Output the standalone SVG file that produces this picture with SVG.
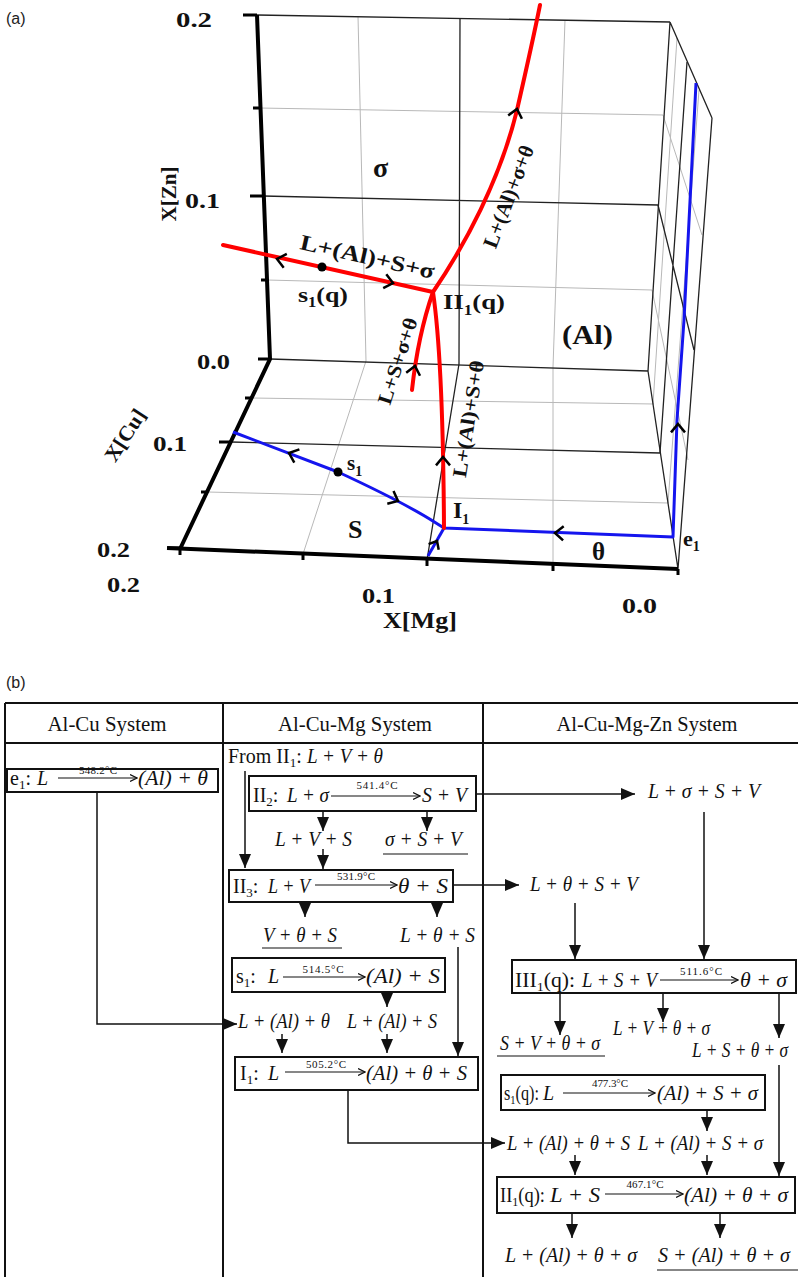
<svg xmlns="http://www.w3.org/2000/svg" width="798" height="1277" viewBox="0 0 798 1277">
<style>
.sans{font-family:"Liberation Sans",Arial,sans-serif;font-size:16px;fill:#222}
.ab{font-family:"Liberation Serif","Times New Roman",serif;font-weight:bold;fill:#111}
.t{font-family:"Liberation Serif","Times New Roman",serif;font-size:20px;fill:#111}
.it{font-style:italic}
.tmp{font-family:"Liberation Serif","Times New Roman",serif;font-size:11px;fill:#111}
.hd{font-family:"Liberation Serif","Times New Roman",serif;font-size:21px;fill:#111}
.sub{font-size:13px}
.g1{stroke:#b8b8b8;stroke-width:1;fill:none}
.g2{stroke:#222;stroke-width:1.3;fill:none}
.ax{stroke:#000;stroke-width:4;fill:none}
.tk{stroke:#000;stroke-width:3;fill:none}
.red{stroke:#f00;stroke-width:4;fill:none;stroke-linecap:round}
.blue{stroke:#1515ee;stroke-width:3;fill:none;stroke-linejoin:round}
.chev{stroke:#000;stroke-width:2.5;fill:none}
.box{fill:#fff;stroke:#111;stroke-width:2}
.tbl{stroke:#111;stroke-width:2;fill:none}
.cn{stroke:#111;stroke-width:1.5;fill:none;marker-end:url(#tri)}
.ra{stroke:#111;stroke-width:1.2;fill:none;marker-end:url(#oa)}
.ul{stroke:#111;stroke-width:1.2}
</style>
<defs>
<marker id="tri" markerUnits="userSpaceOnUse" markerWidth="14" markerHeight="12" viewBox="0 0 14 12" refX="14" refY="6" orient="auto"><path d="M0,0 L14,6 L0,12 z" fill="#111"/></marker>
<marker id="oa" markerUnits="userSpaceOnUse" markerWidth="8" markerHeight="8" viewBox="0 0 8 8" refX="7.5" refY="4" orient="auto"><path d="M0.5,0.5 L7.5,4 L0.5,7.5" fill="none" stroke="#111" stroke-width="1.2"/></marker>
</defs>

<!-- ===== (a) ===== -->
<g id="plot-a">
<text class="sans" x="6" y="24">(a)</text>
<g id="grid">
<path class="g1" d="M259,108 L663,115 M267,280 L652,290 M358,16 L366,361 M565,20 L553,367"/>
<path class="g2" d="M263,196 L658,205 M460,18 L459,364"/>
<path class="g1" d="M251,398 L654,404 M207,492 L668,503 M366,361 L303,554 M553,367 L553,565"/>
<path class="g2" d="M231,442 L660,453 M459,364 L427,560"/>
<path class="g1" d="M677,38 L653,404 M699,90 L668,503 M663,115 L702,235 M652,290 L688,460"/>
<path class="g2" d="M687,62 L660,453 M658,205 L694,350"/>
<path class="g2" d="M257,15 L670,22 M670,22 L648,371 M270,359 L648,371 M670,22 L712,118 M712,118 L678,569 M648,371 L678,569"/>
</g>
<g id="axes">
<path class="ax" d="M257,15 L270,359 L180,549 M167,548 L678,569"/>
<path class="tk" d="M243,15 L257,15 M253,108 L259,108 M250,196 L263,196 M261,280 L267,280 M258,359 L270,359 M245,398 L251,398 M219,442 L231,442 M201,492 L207,492 M168,548 L180,548 M180,549 L180,555 M303,554 L303,560 M427,559 L427,566 M553,564 L553,571 M678,569 L678,575"/>
</g>
<g id="curves">
<path class="blue" d="M233,432 L338,472 Q405,503 436,523 L444,528 L673,537 L677,420 L684,320 L696,83"/>
<path class="blue" d="M444,528 L428,556"/>
<path class="red" d="M223,245 L433,292"/>
<path class="red" d="M433,292 C465,245 500,180 517,110 C525,75 533,40 540,5"/>
<path class="red" d="M433,292 Q418,335 412,390"/>
<path class="red" d="M433,292 Q443,360 444,528"/>
</g>
<g id="chevrons">
<path class="chev" d="M283.7,267.7 L277,259 L286.8,253.9"/>
<path class="chev" d="M386.3,274.3 L393,283 L383.2,288.1"/>
<path class="chev" d="M508.2,115.5 L517,109 L521.9,118.8"/>
<path class="chev" d="M406.2,372.7 L415,366 L420,375.8"/>
<path class="chev" d="M436,465.4 L443,457 L450,465.4"/>
<path class="chev" d="M294.3,462.6 L289,453 L299.4,449.4"/>
<path class="chev" d="M393.5,491 L398,501 L387.3,503.7"/>
<path class="chev" d="M563.1,540.4 L555,533 L563.7,526.3"/>
<path class="chev" d="M671,432.4 L678,424 L685,432.4"/>
<path class="chev" d="M428.6,544.2 L437,541 L438.7,549.8"/>
</g>
<circle cx="322" cy="267" r="4.5" fill="#000"/>
<circle cx="338" cy="472" r="4.5" fill="#000"/>
<g id="axis-labels">
<text class="ab" x="176" y="27" font-size="22" textLength="36" lengthAdjust="spacingAndGlyphs">0.2</text>
<text class="ab" x="185" y="208" font-size="22" textLength="35" lengthAdjust="spacingAndGlyphs">0.1</text>
<text class="ab" font-size="22" text-anchor="middle" transform="translate(176,194) rotate(-90)" textLength="55" lengthAdjust="spacingAndGlyphs">X[Zn]</text>
<text class="ab" x="197" y="369" font-size="22" textLength="33" lengthAdjust="spacingAndGlyphs">0.0</text>
<text class="ab" x="153" y="451" font-size="22" textLength="34" lengthAdjust="spacingAndGlyphs">0.1</text>
<text class="ab" x="97" y="557" font-size="22" textLength="33" lengthAdjust="spacingAndGlyphs">0.2</text>
<text class="ab" font-size="21" text-anchor="middle" transform="translate(131,439) rotate(-57)" textLength="58" lengthAdjust="spacingAndGlyphs">X[Cu]</text>
<text class="ab" x="107" y="592" font-size="22" textLength="33" lengthAdjust="spacingAndGlyphs">0.2</text>
<text class="ab" x="362" y="603" font-size="22" textLength="33" lengthAdjust="spacingAndGlyphs">0.1</text>
<text class="ab" x="622" y="613" font-size="22" textLength="35" lengthAdjust="spacingAndGlyphs">0.0</text>
<text class="ab" x="383" y="628" font-size="23" textLength="74" lengthAdjust="spacingAndGlyphs">X[Mg]</text>
</g>
<g id="region-labels">
<text class="ab" x="373" y="177" font-size="28">σ</text>
<text class="ab" x="562" y="344" font-size="28" textLength="51" lengthAdjust="spacingAndGlyphs">(Al)</text>
<text class="ab" x="348" y="538" font-size="26">S</text>
<text class="ab" x="592" y="560" font-size="25">θ</text>
<text class="ab" x="683" y="546" font-size="22">e<tspan font-size="14" dy="5">1</tspan></text>
<text class="ab" x="453" y="518" font-size="24">I<tspan font-size="14" dy="6">1</tspan></text>
<text class="ab" x="347" y="470" font-size="21">s<tspan font-size="14" dy="6">1</tspan></text>
<text class="ab" x="298" y="302" font-size="22" textLength="50" lengthAdjust="spacingAndGlyphs">s<tspan font-size="14" dy="5">1</tspan><tspan dy="-5">(q)</tspan></text>
<text class="ab" x="443" y="309" font-size="22" textLength="62" lengthAdjust="spacingAndGlyphs">II<tspan font-size="14" dy="6">1</tspan><tspan dy="-6">(q)</tspan></text>
<text class="ab" font-size="22" transform="translate(299,249) rotate(12.6)" textLength="137" lengthAdjust="spacingAndGlyphs">L+(Al)+S+σ</text>
<text class="ab" font-size="21" text-anchor="middle" transform="translate(515,199) rotate(-69)" textLength="108" lengthAdjust="spacingAndGlyphs">L+(Al)+σ+θ</text>
<text class="ab" font-size="20" text-anchor="middle" transform="translate(404,363) rotate(-72)" textLength="90" lengthAdjust="spacingAndGlyphs">L+S+σ+θ</text>
<text class="ab" font-size="20" text-anchor="middle" transform="translate(475,420) rotate(-81)" textLength="118" lengthAdjust="spacingAndGlyphs">L+(Al)+S+θ</text>
</g>
</g>

<!-- ===== (b) ===== -->
<text class="sans" x="6" y="688">(b)</text>
<g id="table">
<path class="tbl" d="M5,703 L798,703 M5,743 L798,743 M5,703 L5,1277 M223,703 L223,1277 M483,703 L483,1277"/>
<text class="hd" x="107" y="731" text-anchor="middle" textLength="119" lengthAdjust="spacingAndGlyphs">Al-Cu System</text>
<text class="hd" x="355" y="731" text-anchor="middle" textLength="154" lengthAdjust="spacingAndGlyphs">Al-Cu-Mg System</text>
<text class="hd" x="647" y="731" text-anchor="middle" textLength="181" lengthAdjust="spacingAndGlyphs">Al-Cu-Mg-Zn System</text>
</g>

<g id="connectors">
<path class="cn" d="M97,792 L97,1024 L237,1024"/>
<path class="cn" d="M245,771 L245,868"/>
<path class="cn" d="M476,794 L635,794"/>
<path class="cn" d="M323,811 L323,831"/>
<path class="cn" d="M427,811 L427,831"/>
<path class="cn" d="M323,849 L323,869"/>
<path class="cn" d="M453,885 L519,885"/>
<path class="cn" d="M305,902 L305,917"/>
<path class="cn" d="M437,902 L437,917"/>
<path class="cn" d="M458,947 L458,1056"/>
<path class="cn" d="M387,992 L387,1007"/>
<path class="cn" d="M282,1034 L282,1053"/>
<path class="cn" d="M387,1034 L387,1053"/>
<path class="cn" d="M348,1090 L348,1143 L505,1143"/>
<path class="cn" d="M704,812 L704,959"/>
<path class="cn" d="M575,903 L575,959"/>
<path class="cn" d="M560,993 L560,1035"/>
<path class="cn" d="M663,993 L663,1022"/>
<path class="cn" d="M779,993 L779,1038"/>
<path class="cn" d="M779,1065 L779,1176"/>
<path class="cn" d="M707,1110 L707,1131"/>
<path class="cn" d="M575,1155 L575,1175"/>
<path class="cn" d="M707,1155 L707,1175"/>
<path class="cn" d="M572,1213 L572,1238"/>
<path class="cn" d="M720,1213 L720,1238"/>
</g>

<g id="node-e1">
<rect class="box" x="7" y="769" width="211" height="23"/>
<text class="t" x="10" y="785">e<tspan class="sub" dy="4">1</tspan><tspan dy="-4">:</tspan></text>
<text class="t it" x="37" y="785">L</text>
<path class="ra" d="M58,778 L137,778"/>
<text class="tmp" x="98" y="774" font-size="10" text-anchor="middle" textLength="38">548.2°C</text>
<text class="t it" x="138" y="785" font-size="21" textLength="70" lengthAdjust="spacingAndGlyphs">(Al) + θ</text>
</g>

<g id="node-from-II1">
<text class="t" x="228" y="763">From II<tspan class="sub" dy="4">1</tspan><tspan dy="-4">:</tspan></text>
<text class="t it" x="307" y="763" textLength="76" lengthAdjust="spacingAndGlyphs">L + V + θ</text>
</g>

<g id="node-II2">
<rect class="box" x="249" y="776" width="227" height="35"/>
<text class="t" x="253" y="802">II<tspan class="sub" dy="4">2</tspan><tspan dy="-4">:</tspan></text>
<text class="t it" x="287" y="802" textLength="42" lengthAdjust="spacingAndGlyphs">L + σ</text>
<path class="ra" d="M331,796 L420,796"/>
<text class="tmp" x="377" y="789" text-anchor="middle" textLength="41">541.4°C</text>
<text class="t it" x="422" y="802" textLength="45" lengthAdjust="spacingAndGlyphs">S + V</text>
</g>
<g id="node-LVS"><text class="t it" x="275" y="846" textLength="77" lengthAdjust="spacingAndGlyphs">L + V + S</text></g>
<g id="node-sSV"><text class="t it" x="385" y="846" textLength="77" lengthAdjust="spacingAndGlyphs">σ + S + V</text><line class="ul" x1="383" y1="854" x2="468" y2="854"/></g>

<g id="node-II3">
<rect class="box" x="229" y="870" width="224" height="32"/>
<text class="t" x="233" y="893">II<tspan class="sub" dy="4">3</tspan><tspan dy="-4">:</tspan></text>
<text class="t it" x="268" y="893" textLength="42" lengthAdjust="spacingAndGlyphs">L + V</text>
<path class="ra" d="M315,885 L397,885"/>
<text class="tmp" x="356" y="880" text-anchor="middle" textLength="38">531.9°C</text>
<text class="t it" x="398" y="893" font-size="21" textLength="50" lengthAdjust="spacingAndGlyphs">θ + S</text>
</g>
<g id="node-VthS"><text class="t it" x="263" y="942" textLength="74" lengthAdjust="spacingAndGlyphs">V + θ + S</text><line class="ul" x1="262" y1="948" x2="342" y2="948"/></g>
<g id="node-LthS"><text class="t it" x="400" y="942" textLength="75" lengthAdjust="spacingAndGlyphs">L + θ + S</text></g>

<g id="node-s1">
<rect class="box" x="232" y="958" width="213" height="34"/>
<text class="t" x="236" y="983">s<tspan class="sub" dy="4">1</tspan><tspan dy="-4">:</tspan></text>
<text class="t it" x="268" y="983">L</text>
<path class="ra" d="M283,977 L365,977"/>
<text class="tmp" x="323" y="973" text-anchor="middle" textLength="41">514.5°C</text>
<text class="t it" x="366" y="983" font-size="21" textLength="74" lengthAdjust="spacingAndGlyphs">(Al) + S</text>
</g>
<g id="node-LAlth"><text class="t it" x="238" y="1028" textLength="92" lengthAdjust="spacingAndGlyphs">L + (Al) + θ</text></g>
<g id="node-LAlS"><text class="t it" x="347" y="1028" font-size="17" textLength="90" lengthAdjust="spacingAndGlyphs">L + (Al) + S</text></g>

<g id="node-I1">
<rect class="box" x="235" y="1057" width="243" height="33"/>
<text class="t" x="240" y="1080">I<tspan class="sub" dy="4">1</tspan><tspan dy="-4">:</tspan></text>
<text class="t it" x="268" y="1080">L</text>
<path class="ra" d="M285,1072 L365,1072"/>
<text class="tmp" x="326" y="1068" text-anchor="middle" textLength="40">505.2°C</text>
<text class="t it" x="366" y="1080" textLength="101" lengthAdjust="spacingAndGlyphs">(Al) + θ + S</text>
</g>

<g id="node-LsSV"><text class="t it" x="648" y="798" textLength="112" lengthAdjust="spacingAndGlyphs">L + σ + S + V</text></g>
<g id="node-LthSV"><text class="t it" x="530" y="891" textLength="108" lengthAdjust="spacingAndGlyphs">L + θ + S + V</text></g>

<g id="node-III1q">
<rect class="box" x="512" y="960" width="284" height="33"/>
<text class="t" x="515" y="987" textLength="60" lengthAdjust="spacingAndGlyphs">III<tspan class="sub" dy="4">1</tspan><tspan dy="-4">(q):</tspan></text>
<text class="t it" x="582" y="987" textLength="75" lengthAdjust="spacingAndGlyphs">L + S + V</text>
<path class="ra" d="M660,980 L738,980"/>
<text class="tmp" x="701" y="975" text-anchor="middle" textLength="42">511.6°C</text>
<text class="t it" x="740" y="987" font-size="21" textLength="47" lengthAdjust="spacingAndGlyphs">θ + σ</text>
</g>
<g id="node-SVths"><text class="t it" x="500" y="1050" font-size="17" textLength="100" lengthAdjust="spacingAndGlyphs">S + V + θ + σ</text><line class="ul" x1="497" y1="1056" x2="605" y2="1056"/></g>
<g id="node-LVths"><text class="t it" x="613" y="1035" font-size="15" textLength="97" lengthAdjust="spacingAndGlyphs">L + V + θ + σ</text></g>
<g id="node-LSths"><text class="t it" x="692" y="1057" font-size="17" textLength="96" lengthAdjust="spacingAndGlyphs">L + S + θ + σ</text></g>

<g id="node-s1q">
<rect class="box" x="501" y="1075" width="264" height="35"/>
<text class="t" x="504" y="1100" textLength="35" lengthAdjust="spacingAndGlyphs">s<tspan class="sub" dy="4">1</tspan><tspan dy="-4">(q):</tspan></text>
<text class="t it" x="543" y="1100">L</text>
<path class="ra" d="M563,1093 L655,1093"/>
<text class="tmp" x="610" y="1087" text-anchor="middle" textLength="36">477.3°C</text>
<text class="t it" x="657" y="1100" textLength="101" lengthAdjust="spacingAndGlyphs">(Al) + S + σ</text>
</g>
<g id="node-LAlthS"><text class="t it" x="507" y="1150" textLength="123" lengthAdjust="spacingAndGlyphs">L + (Al) + θ + S</text></g>
<g id="node-LAlSs"><text class="t it" x="638" y="1150" textLength="125" lengthAdjust="spacingAndGlyphs">L + (Al) + S + σ</text></g>

<g id="node-II1q">
<rect class="box" x="497" y="1177" width="298" height="36"/>
<text class="t" x="500" y="1202" textLength="45" lengthAdjust="spacingAndGlyphs">II<tspan class="sub" dy="4">1</tspan><tspan dy="-4">(q):</tspan></text>
<text class="t it" x="550" y="1202" textLength="50" lengthAdjust="spacingAndGlyphs">L + S</text>
<path class="ra" d="M605,1194 L683,1194"/>
<text class="tmp" x="645" y="1188" text-anchor="middle" textLength="37">467.1°C</text>
<text class="t it" x="684" y="1202" textLength="104" lengthAdjust="spacingAndGlyphs">(Al) + θ + σ</text>
</g>
<g id="node-LAlths"><text class="t it" x="505" y="1262" textLength="132" lengthAdjust="spacingAndGlyphs">L + (Al) + θ + σ</text></g>
<g id="node-SAlths"><text class="t it" x="658" y="1262" textLength="132" lengthAdjust="spacingAndGlyphs">S + (Al) + θ + σ</text><line class="ul" x1="657" y1="1270" x2="798" y2="1270"/></g>
</svg>
